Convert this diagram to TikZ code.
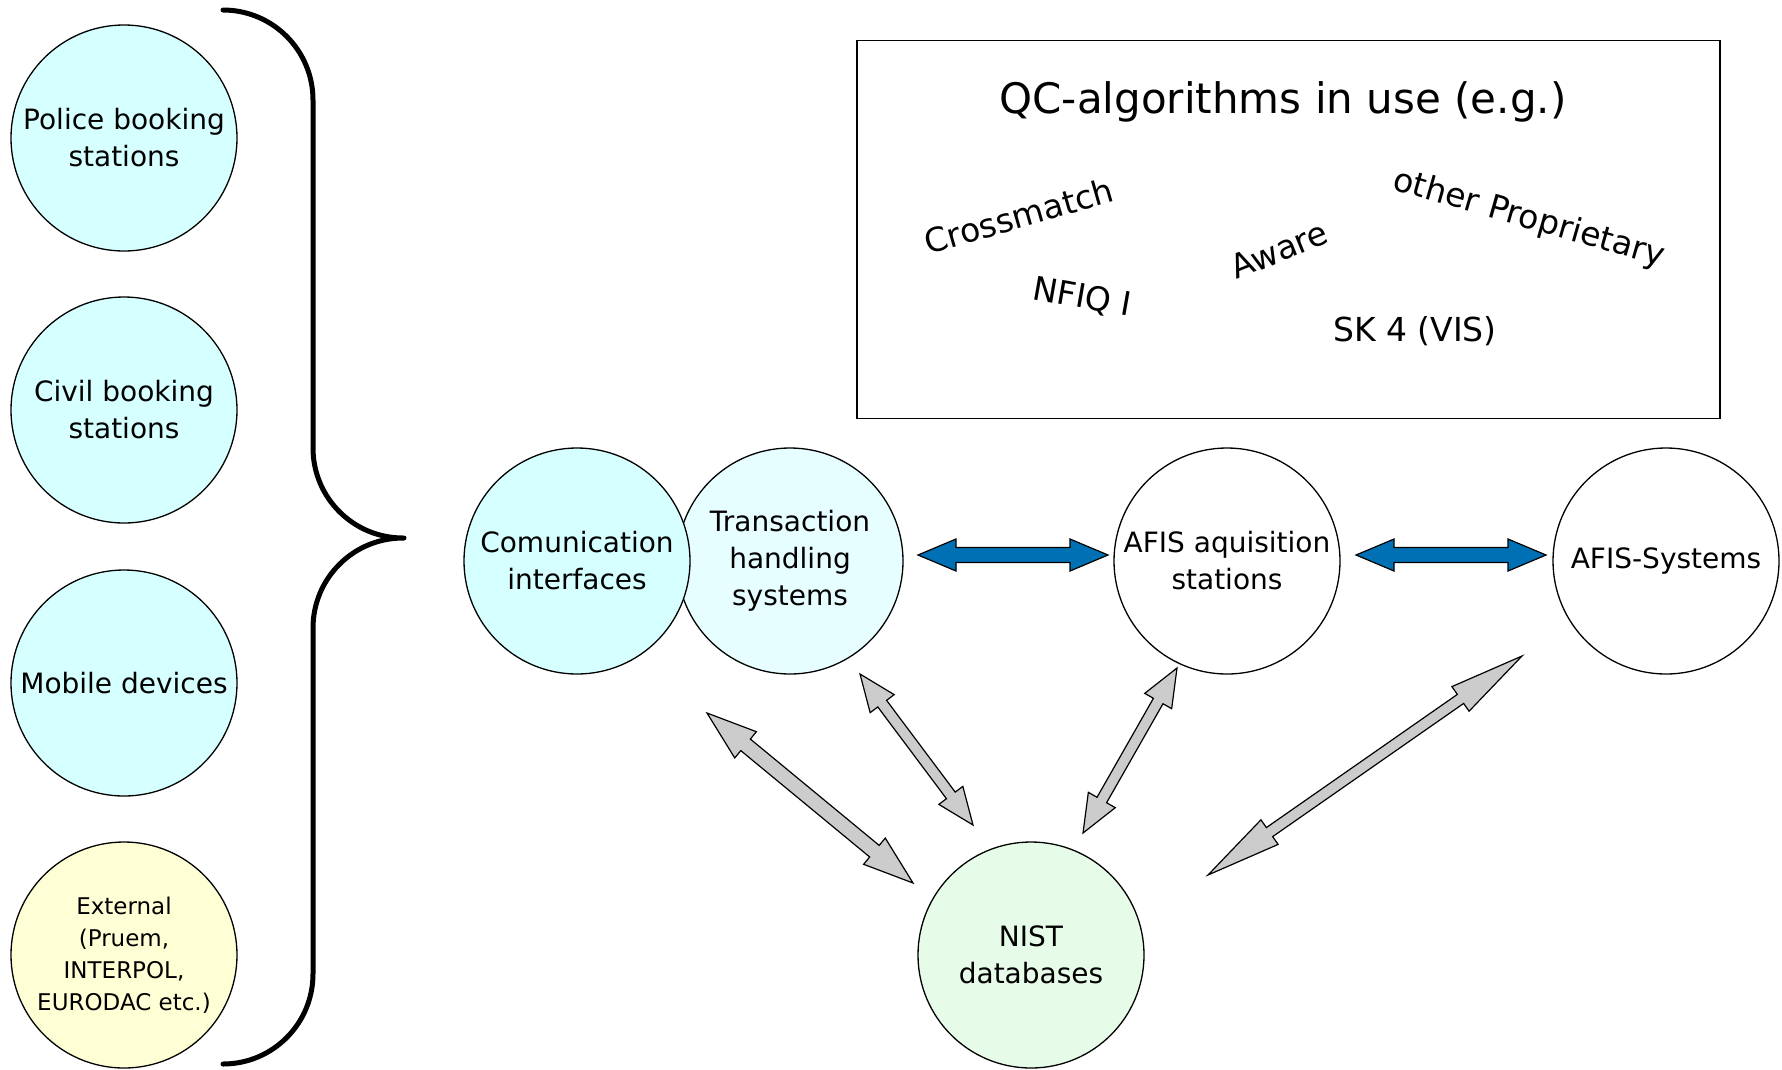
\documentclass[tikz,border=0pt]{standalone}
\usepackage{fontspec}
\setmainfont{DejaVu Sans}
\usepackage{xcolor}
\usetikzlibrary{calc}

\definecolor{cyanfill}{RGB}{214,255,255}
\definecolor{palecyan}{RGB}{230,254,255}
\definecolor{palegreen}{RGB}{230,252,232}
\definecolor{paleyellow}{RGB}{255,255,214}
\definecolor{linkblue}{RGB}{0,112,180}
\definecolor{linkgrey}{RGB}{204,204,204}

% fat two-headed arrow: style, from, to, shaft half width, head half width, head length
\newcommand{\dblarrow}[6]{%
  \draw[#1] (#2)
    -- ($(#2)!#6!(#3)!#5!90:(#3)$)
    -- ($(#2)!#6!(#3)!#4!90:(#3)$)
    -- ($(#3)!#6!(#2)!#4!-90:(#2)$)
    -- ($(#3)!#6!(#2)!#5!-90:(#2)$)
    -- (#3)
    -- ($(#3)!#6!(#2)!#5!90:(#2)$)
    -- ($(#3)!#6!(#2)!#4!90:(#2)$)
    -- ($(#2)!#6!(#3)!#4!-90:(#3)$)
    -- ($(#2)!#6!(#3)!#5!-90:(#3)$)
    -- cycle;}

\begin{document}
\begin{tikzpicture}[
    x=1pt, y=-1pt,
    station/.style={circle, draw, line width=1.3pt, minimum size=226pt, inner sep=0pt,
        align=center, font=\fontsize{28}{37}\selectfont},
    algo/.style={font=\fontsize{33}{40}\selectfont, inner sep=0pt},
    bluearrow/.style={draw, line width=1.2pt, fill=linkblue},
    greyarrow/.style={draw, line width=1.2pt, fill=linkgrey}
]
    \useasboundingbox (0,0) rectangle (1782,1069);

    % sources on the left
    \node[station, fill=cyanfill] (police) at (124,138) {Police booking\\stations};
    \node[station, fill=cyanfill] (civil) at (124,410) {Civil booking\\stations};
    \node[station, fill=cyanfill] (mobile) at (124,683) {Mobile devices};
    \node[station, fill=paleyellow, font=\fontsize{23}{32}\selectfont] (external) at (124,955)
        {External\\(Pruem,\\INTERPOL,\\EURODAC etc.)};

    % brace
    \draw[line width=5pt, line cap=round, rounded corners=90pt]
        (223,10) -- (313,10) -- (313,538) -- (404,538)
        (404,538) -- (313,538) -- (313,1064) -- (223,1064);

    % QC box
    \node[draw, line width=1.6pt, minimum width=863pt, minimum height=378pt] (qcbox) at (1288.5,229.5) {};
    \node[font=\fontsize{42}{50}\selectfont, anchor=base] (qctitle) at (1283,113) {QC-algorithms in use (e.g.)};
    \node[algo, rotate=16] (crossmatch) at (1019,216) {Crossmatch};
    \node[algo, rotate=-10] (nfiq) at (1082,298) {NFIQ I};
    \node[algo, rotate=22] (aware) at (1279,250) {Aware};
    \node[algo, rotate=-16] (other) at (1529,219) {other Proprietary};
    \node[algo] (sk4) at (1415,331) {SK 4 (VIS)};

    % systems
    \node[station, fill=palecyan] (transaction) at (790,561) {Transaction\\handling\\systems};
    \node[station, fill=cyanfill] (comm) at (577,561) {Comunication\\interfaces};
    \node[station] (afisaq) at (1227,561) {AFIS aquisition\\stations};
    \node[station] (afissys) at (1666,561) {AFIS-Systems};
    \node[station, fill=palegreen] (nist) at (1031,955) {NIST\\databases};

    % arrow ends
    \coordinate (b1a) at (918,555);  \coordinate (b1b) at (1108,555);
    \coordinate (b2a) at (1356,555); \coordinate (b2b) at (1546,555);
    \coordinate (g1a) at (707,713);  \coordinate (g1b) at (913,883);
    \coordinate (g2a) at (860,674);  \coordinate (g2b) at (973,825);
    \coordinate (g3a) at (1177,668); \coordinate (g3b) at (1083,833);
    \coordinate (g4a) at (1522,656); \coordinate (g4b) at (1208,875);

    \dblarrow{bluearrow}{b1a}{b1b}{7.5pt}{16pt}{38pt}
    \dblarrow{bluearrow}{b2a}{b2b}{7.5pt}{16pt}{38pt}
    \dblarrow{greyarrow}{g1a}{g1b}{7.5pt}{17pt}{50pt}
    \dblarrow{greyarrow}{g2a}{g2b}{5.5pt}{15pt}{37pt}
    \dblarrow{greyarrow}{g3a}{g3b}{5.5pt}{15.5pt}{38pt}
    \dblarrow{greyarrow}{g4a}{g4b}{5.5pt}{15pt}{75pt}
\end{tikzpicture}
\end{document}
